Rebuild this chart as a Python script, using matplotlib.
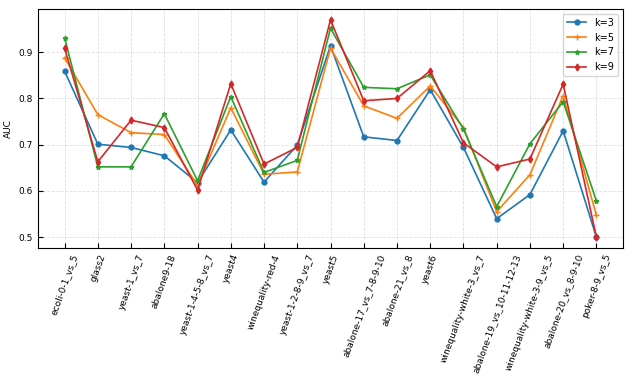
import matplotlib
matplotlib.use('Agg')
import matplotlib.pyplot as plt
import numpy as np

plt.rcParams.update({'font.size': 6.5})

datasets = ['ecoli-0-1_vs_5', 'glass2', 'yeast-1_vs_7', 'abalone9-18', 'yeast-1-4-5-8_vs_7',
            'yeast4', 'winequality-red-4', 'yeast-1-2-8-9_vs_7', 'yeast5', 'abalone-17_vs_7-8-9-10',
            'abalone-21_vs_8', 'yeast6', 'winequality-white-3_vs_7', 'abalone-19_vs_10-11-12-13',
            'winequality-white-3-9_vs_5', 'abalone-20_vs_8-9-10', 'poker-8-9_vs_5']

k3 = [0.859, 0.701, 0.694, 0.676, 0.618, 0.732, 0.619, 0.699, 0.914, 0.717, 0.709, 0.819,
      0.694, 0.540, 0.592, 0.730, 0.500]
k5 = [0.888, 0.765, 0.726, 0.722, 0.612, 0.780, 0.636, 0.641, 0.909, 0.784, 0.757, 0.827,
      0.737, 0.555, 0.635, 0.806, 0.547]
k7 = [0.931, 0.652, 0.652, 0.767, 0.622, 0.804, 0.640, 0.666, 0.952, 0.824, 0.821, 0.851,
      0.734, 0.566, 0.702, 0.793, 0.578]
k9 = [0.909, 0.663, 0.753, 0.737, 0.602, 0.832, 0.658, 0.694, 0.970, 0.795, 0.800, 0.860,
      0.704, 0.652, 0.669, 0.831, 0.500]

series = [('k=3', k3, 'o', 3.5), ('k=5', k5, '+', 4), ('k=7', k7, '*', 3.5), ('k=9', k9, 'd', 3.5)]

fig = plt.figure(figsize=(6.32, 3.79), dpi=100)
ax = fig.add_axes([38/632, 1 - 248/379, 585/632, 239/379])

x = np.arange(len(datasets))
for label, vals, mk, ms in series:
    ax.plot(x, vals, marker=mk, markersize=ms, linewidth=1.2, label=label)

ax.set_xticks(x)
ax.set_xticklabels(datasets, rotation=70, ha='center')
ax.set_ylabel('AUC')
ax.set_yticks([0.5, 0.6, 0.7, 0.8, 0.9])
ax.tick_params(direction='in')
ax.grid(True, linestyle='--', alpha=0.4, linewidth=0.6)
ax.legend(loc='upper right', fontsize=7)

plt.savefig('out.png', dpi=100)
plt.close()
